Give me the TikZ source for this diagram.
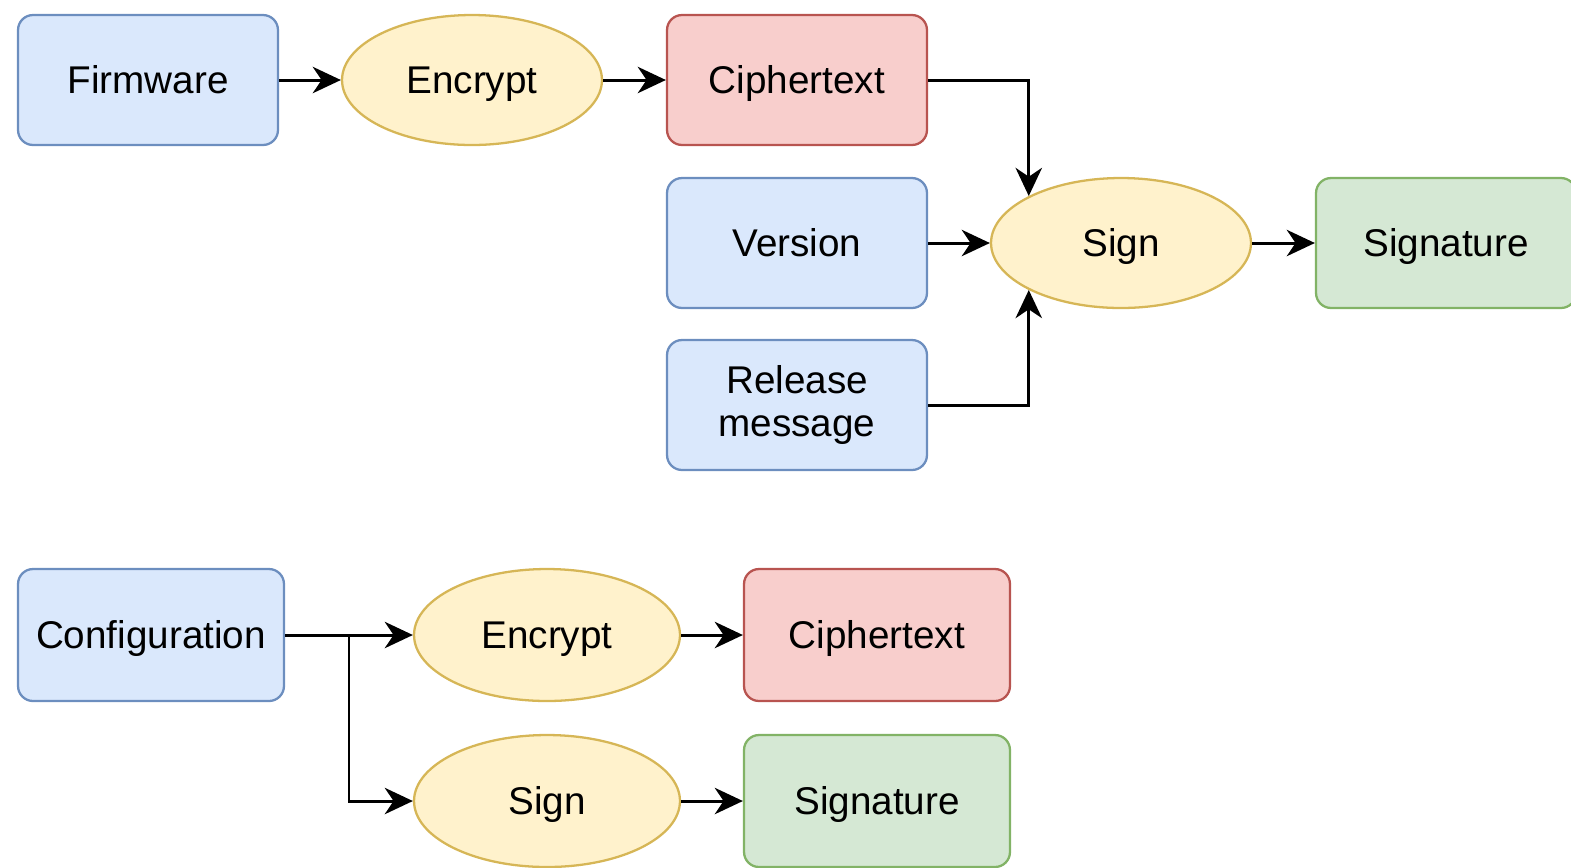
\documentclass[tikz,border=0pt]{standalone}
\usepackage{fontspec}
\setmainfont{Liberation Sans}
\usepackage{xcolor}
\usepackage{tikz}
\usetikzlibrary{shapes.geometric, arrows.meta, positioning}
\definecolor{datablue}{HTML}{DAE8FC}
\definecolor{datablueline}{HTML}{6C8EBF}
\definecolor{opyellow}{HTML}{FFF2CC}
\definecolor{opyellowline}{HTML}{D6B656}
\definecolor{cipherred}{HTML}{F8CECC}
\definecolor{cipherredline}{HTML}{B85450}
\definecolor{siggreen}{HTML}{D5E8D4}
\definecolor{siggreenline}{HTML}{82B366}

\begin{document}
\begin{tikzpicture}[x=0.02cm, y=-0.02cm,
  base/.style={draw, line width=1.3pt, minimum width=5.2cm, minimum height=2.6cm,
    inner sep=0pt, align=center, text height=15.8pt, text depth=0pt,
    font=\fontsize{22}{24.5}\selectfont},
  wide/.style={minimum width=5.32cm, minimum height=2.64cm},
  plain/.style={base, rounded corners=0.3cm, fill=datablue, draw=datablueline},
  cipher/.style={base, rounded corners=0.3cm, fill=cipherred, draw=cipherredline},
  sigbox/.style={base, rounded corners=0.3cm, fill=siggreen, draw=siggreenline},
  op/.style={base, ellipse, fill=opyellow, draw=opyellowline},
  link/.style={line width=1.7pt, -{Stealth[length=16pt, width=15pt, inset=5pt]}}]
  \useasboundingbox (0,0) rectangle (1571,867);

  % firmware update
  \node[plain] (fw) at (148,80) {Firmware};
  \node[op] (enc1) at (472,80) {Encrypt};
  \node[cipher] (ct1) at (797,80) {Ciphertext};
  \node[plain] (ver) at (797,243) {Version};
  \node[plain, text height=, text depth=] (rel) at (797,405) {Release\\message};
  \node[op] (sign1) at (1121,243) {Sign};
  \node[sigbox] (sig1) at (1446,243) {Signature};

  \draw[link] (fw) -- (enc1);
  \draw[link] (enc1) -- (ct1);
  \draw[link] (ct1.east) -| (sign1.153);
  \draw[link] (ver) -- (sign1);
  \draw[link] (rel.east) -| (sign1.207);
  \draw[link] (sign1) -- (sig1);

  % configuration
  \node[plain, wide] (cfg) at (151,635) {Configuration};
  \node[op, wide] (enc2) at (547,635) {Encrypt};
  \node[cipher, wide] (ct2) at (877,635) {Ciphertext};
  \node[op, wide] (sign2) at (547,801) {Sign};
  \node[sigbox, wide] (sig2) at (877,801) {Signature};
  \coordinate (split) at (349,635);

  \draw[link] (cfg) -- (enc2);
  \draw[link] (split) |- (sign2.west);
  \draw[link] (enc2) -- (ct2);
  \draw[link] (sign2) -- (sig2);
\end{tikzpicture}
\end{document}
